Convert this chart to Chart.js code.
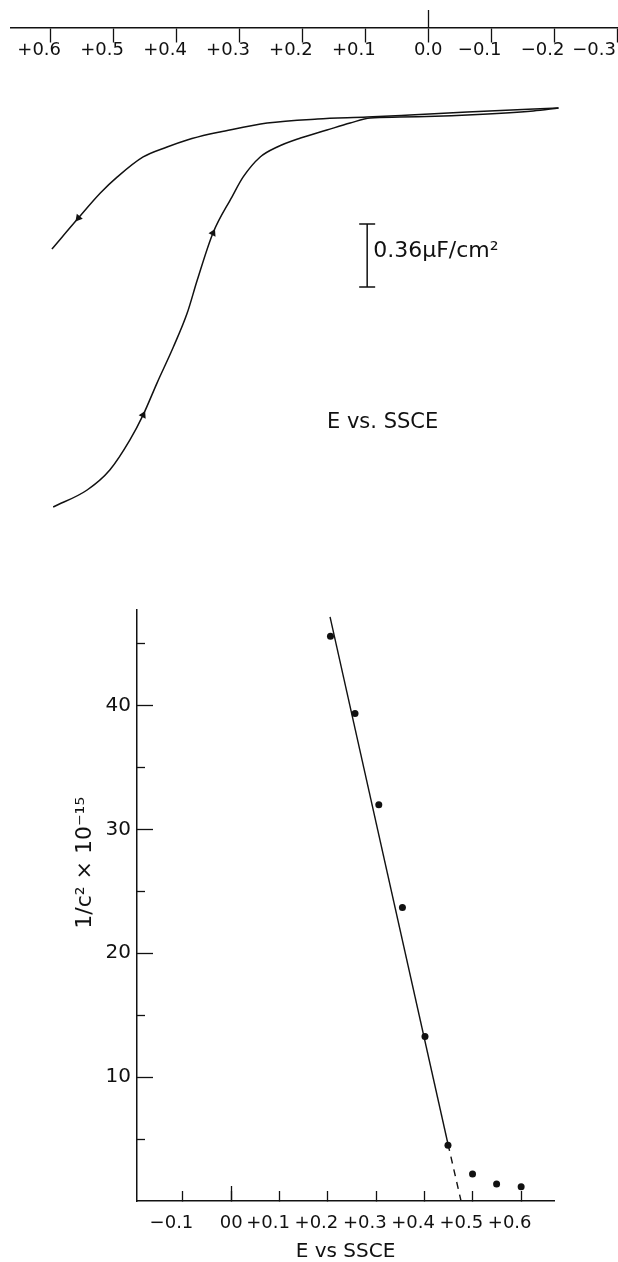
<!DOCTYPE html>
<html>
<head>
<meta charset="utf-8">
<script src="https://cdn.jsdelivr.net/npm/chart.js@4.4.0/dist/chart.umd.min.js"></script>
<style>
  html, body { margin: 0; padding: 0; background: #fff; overflow: hidden; }
  canvas { display: block; }
</style>
</head>
<body>
<canvas id="cv-chart" width="618" height="560"></canvas>
<canvas id="mott-chart" width="618" height="702"></canvas>
<script>
// capacitance vs potential (E vs SSCE, V); capacitance in uF/cm2 with arbitrary offset
const outerPotential = [0.598, 0.556, 0.521, 0.494, 0.453, 0.415, 0.383, 0.347, 0.331, 0.256, 0.176, 0.097, 0.029, -0.062, -0.207];
const outerCap = [1.777, 1.954, 2.097, 2.189, 2.303, 2.360, 2.400, 2.434, 2.446, 2.497, 2.520, 2.531, 2.543, 2.560, 2.583];
const innerPotential = [-0.207, -0.167, -0.062, 0.045, 0.092, 0.124, 0.161, 0.203, 0.240, 0.267, 0.294, 0.312, 0.342, 0.367, 0.383, 0.405, 0.431, 0.453, 0.474, 0.506, 0.542, 0.596];
const innerCap = [2.583, 2.566, 2.543, 2.531, 2.526, 2.497, 2.457, 2.411, 2.360, 2.303, 2.189, 2.074, 1.869, 1.600, 1.411, 1.217, 1.011, 0.829, 0.686, 0.514, 0.400, 0.303];
const outerArrows = [1];
const innerArrows = [12, 17];

const scaleBarPotential = 0.097;
const scaleBarCap = [1.56, 1.92]; // 0.36 uF/cm2

const cvTickValues = [0.6, 0.5, 0.4, 0.3, 0.2, 0.1, 0, -0.1, -0.2, -0.3];
const cvTickLabels = ['+0.6', '+0.5', '+0.4', '+0.3', '+0.2', '+0.1', '0.0', '−0.1', '−0.2', '−0.3'];

// Mott-Schottky plot
const mottPotential = [0.2054, 0.2562, 0.3054, 0.3543, 0.4010, 0.4486, 0.4994, 0.5492, 0.600];
const mottValue = [45.58, 39.34, 31.99, 23.69, 13.27, 4.50, 2.18, 1.37, 1.16];
const fitPotential = [0.2045, 0.4486, 0.4756];
const fitValue = [47.15, 4.60, 0];

const mottTickValues = [-0.1, 0, 0.1, 0.2, 0.3, 0.4, 0.5, 0.6];
const mottTickLabels = ['−0.1', '00', '+0.1', '+0.2', '+0.3', '+0.4', '+0.5', '+0.6'];
const mottYTicks = [10, 20, 30, 40];
const mottYMinorTicks = [5, 15, 25, 35, 45];

const ink = '#111';
const fontFamily = '"DejaVu Sans", sans-serif';

Chart.defaults.font.family = fontFamily;
Chart.defaults.color = ink;

function toPoints(xs, ys) {
  return xs.map((x, i) => ({ x: x, y: ys[i] }));
}

function padSigned(label, n) {
  return /^[+−]/.test(label) ? label + '\u2007'.repeat(n) : label;
}

function fixTicks(values) {
  return (scale) => {
    scale.ticks = values.map((v) => ({ value: v }));
  };
}

function flatAxis(height) {
  return (s) => {
    s.height = height;
    s.paddingLeft = 0;
    s.paddingRight = 0;
  };
}

// ---------- top: C vs E ----------
const cvXMin = -0.3;
const cvXMax = 0.663;
const cvAxisCap = 3.04;
const cvTextPlugin = {
  id: 'cvText',
  afterDraw(chart) {
    const { ctx } = chart;
    const x = chart.scales.x;
    const y = chart.scales.y;
    ctx.save();
    ctx.fillStyle = ink;
    ctx.textAlign = 'left';
    ctx.textBaseline = 'alphabetic';
    ctx.font = '22px ' + fontFamily;
    ctx.fillText('0.36µF/cm²', x.getPixelForValue(scaleBarPotential) + 6, y.getPixelForValue(1.731));
    ctx.font = '21px ' + fontFamily;
    ctx.fillText('E vs. SSCE', 327, 428);
    ctx.restore();
  },
};

const capBarHalf = 0.0127;
new Chart(document.getElementById('cv-chart'), {
  type: 'scatter',
  data: {
    datasets: [
      {
        data: toPoints(outerPotential, outerCap),
        showLine: true,
        borderColor: ink,
        backgroundColor: ink,
        borderWidth: 1.5,
        cubicInterpolationMode: 'monotone',
        pointStyle: 'triangle',
        pointRadius: outerPotential.map((v, i) => (outerArrows.includes(i) ? 3 : 0)),
        pointRotation: 220,
      },
      {
        data: toPoints(innerPotential, innerCap),
        showLine: true,
        borderColor: ink,
        backgroundColor: ink,
        borderWidth: 1.5,
        cubicInterpolationMode: 'monotone',
        pointStyle: 'triangle',
        pointRadius: innerPotential.map((v, i) => (innerArrows.includes(i) ? 3 : 0)),
        pointRotation: 26,
      },
      {
        // scale bar
        data: [
          { x: scaleBarPotential + capBarHalf, y: scaleBarCap[1] },
          { x: scaleBarPotential - capBarHalf, y: scaleBarCap[1] },
          { x: scaleBarPotential, y: null },
          { x: scaleBarPotential, y: scaleBarCap[1] },
          { x: scaleBarPotential, y: scaleBarCap[0] },
          { x: scaleBarPotential, y: null },
          { x: scaleBarPotential + capBarHalf, y: scaleBarCap[0] },
          { x: scaleBarPotential - capBarHalf, y: scaleBarCap[0] },
        ],
        showLine: true,
        spanGaps: false,
        borderColor: ink,
        borderWidth: 1.5,
        pointRadius: 0,
      },
    ],
  },
  options: {
    responsive: false,
    animation: false,
    devicePixelRatio: 1,
    layout: { padding: { left: 11, right: 1, top: 0, bottom: 0 } },
    plugins: { legend: { display: false }, tooltip: { enabled: false } },
    scales: {
      y: { type: 'linear', display: false, min: 0, max: 3.2 },
      x: {
        type: 'linear',
        reverse: true,
        min: cvXMin,
        max: cvXMax,
        position: { y: cvAxisCap },
        afterBuildTicks: fixTicks(cvTickValues),
        afterFit: flatAxis(0),
        border: { display: true, color: ink, width: 1.5 },
        grid: { drawOnChartArea: false, tickLength: 14, tickColor: ink, tickWidth: 1.3 },
        ticks: {
          autoSkip: false,
          maxRotation: 0,
          minRotation: 0,
          padding: -1,
          font: { size: 18, lineHeight: 1 },
          callback: (v, i) => padSigned(cvTickLabels[i], i === cvTickLabels.length - 1 ? 4 : 2),
        },
      },
      xZero: {
        type: 'linear',
        axis: 'x',
        reverse: true,
        min: cvXMin,
        max: cvXMax,
        position: { y: cvAxisCap },
        afterBuildTicks: fixTicks([0]),
        afterFit: flatAxis(0),
        border: { display: false },
        grid: { drawOnChartArea: false, tickLength: -18, tickColor: ink, tickWidth: 1.3 },
        ticks: { display: false },
      },
    },
  },
  plugins: [cvTextPlugin],
});

// ---------- bottom: 1/C^2 vs E ----------
const mottXMin = -0.195;
const mottXMax = 0.668;
const mottYMax = 47.7;
const mottTitlePlugin = {
  id: 'mottTitle',
  afterDraw(chart) {
    const { ctx } = chart;
    const y = chart.scales.y;
    ctx.save();
    ctx.fillStyle = ink;
    ctx.font = '22px ' + fontFamily;
    ctx.textAlign = 'center';
    ctx.textBaseline = 'middle';
    ctx.translate(85, y.getPixelForValue(27.3));
    ctx.rotate(-Math.PI / 2);
    ctx.fillText('1/c² × 10⁻¹⁵', 0, 0);
    ctx.restore();
  },
};

new Chart(document.getElementById('mott-chart'), {
  type: 'scatter',
  data: {
    datasets: [
      {
        data: toPoints(mottPotential, mottValue),
        pointRadius: 3.5,
        pointBackgroundColor: ink,
        pointBorderWidth: 0,
        showLine: false,
      },
      {
        data: toPoints(fitPotential.slice(0, 2), fitValue.slice(0, 2)),
        showLine: true,
        borderColor: ink,
        borderWidth: 1.4,
        pointRadius: 0,
      },
      {
        data: toPoints(fitPotential.slice(1), fitValue.slice(1)),
        showLine: true,
        borderColor: ink,
        borderWidth: 1.4,
        borderDash: [7, 6],
        pointRadius: 0,
      },
    ],
  },
  options: {
    responsive: false,
    animation: false,
    devicePixelRatio: 1,
    layout: { padding: { left: 0, right: 64, top: 50, bottom: 0 } },
    plugins: { legend: { display: false }, tooltip: { enabled: false } },
    scales: {
      x: {
        type: 'linear',
        position: 'bottom',
        min: mottXMin,
        max: mottXMax,
        afterBuildTicks: fixTicks(mottTickValues),
        afterFit: flatAxis(61),
        border: { display: true, color: ink, width: 1.5 },
        grid: { drawOnChartArea: false, tickLength: -10, tickColor: ink, tickWidth: 1.3 },
        ticks: {
          autoSkip: false,
          maxRotation: 0,
          minRotation: 0,
          padding: 23.5,
          font: { size: 18, lineHeight: 1 },
          callback: (v, i) => padSigned(mottTickLabels[i], 2),
        },
        title: {
          display: true,
          text: 'E vs SSCE',
          font: { size: 20, lineHeight: 1 },
          padding: { top: 0, bottom: 0 },
        },
      },
      y: {
        type: 'linear',
        position: 'left',
        min: 0,
        max: mottYMax,
        afterBuildTicks: fixTicks(mottYTicks),
        afterFit: (s) => { s.width = 137; },
        border: { display: true, color: ink, width: 1.5 },
        grid: { drawOnChartArea: false, tickLength: -16, tickColor: ink, tickWidth: 1.3 },
        ticks: { padding: 22, font: { size: 20, lineHeight: 1 } },
      },
      yMinor: {
        type: 'linear',
        axis: 'y',
        min: 0,
        max: mottYMax,
        position: { x: mottXMin },
        afterBuildTicks: fixTicks(mottYMinorTicks),
        afterFit: (s) => { s.width = 0; },
        border: { display: false },
        grid: { drawOnChartArea: false, tickLength: -8, tickColor: ink, tickWidth: 1.3 },
        ticks: { display: false },
      },
      xZero: {
        type: 'linear',
        axis: 'x',
        min: mottXMin,
        max: mottXMax,
        position: { y: 0 },
        afterBuildTicks: fixTicks([0]),
        afterFit: flatAxis(0),
        border: { display: false },
        grid: { drawOnChartArea: false, tickLength: -15, tickColor: ink, tickWidth: 1.3 },
        ticks: { display: false },
      },
    },
  },
  plugins: [mottTitlePlugin],
});
</script>
</body>
</html>
